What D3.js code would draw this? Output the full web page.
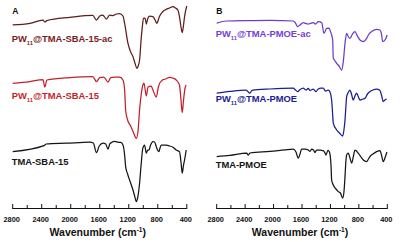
<!DOCTYPE html>
<html>
<head>
<meta charset="utf-8">
<script src="https://cdn.jsdelivr.net/npm/d3@7"></script>
<style>
  body { margin: 0; background: #fff; }
  svg { display: block; font-family: Arial, "Liberation Sans", sans-serif; }
</style>
</head>
<body>
<div id="chart"></div>
<script>
// FTIR spectra, transmittance in a.u. (offset stacked), wavenumber in cm-1
const xTicks = [2800, 2400, 2000, 1600, 1200, 800, 400];
const xMinor = d3.range(400, 2801, 200);

const sbaAc = [[2800,90.5],[2562,91.3],[2384,93],[2356,92],[2329,92.7],[2012,94.3],[1696,95.3],[1645,93],[1600,95],[1559,95.5],[1508,93.5],[1463,95.5],[1421,95.2],[1370,96],[1325,96.2],[1280,95],[1257,91.3],[1211,81.3],[1174,77],[1142,74.7],[1111,71],[1087,68.8],[1071,70],[1051,73],[1030,83],[1013,89.7],[996,93.8],[975,94],[958,91],[940,93.5],[913,95],[867,94.7],[837,93],[812,91.3],[789,93.5],[777,94.7],[736,97],[683,98.3],[638,99],[592,99.7],[555,99],[524,98],[501,94.7],[480,89.5],[463,86.7],[445,90.5],[431,94.7],[400,100]];
const sbaPw = [[2800,61.3],[2562,62.2],[2384,63.2],[2356,59.5],[2329,63],[2012,64.2],[1696,64.7],[1645,62.2],[1600,64.2],[1545,64.5],[1486,62],[1449,64.2],[1394,64.5],[1325,64.5],[1280,63],[1257,58],[1243,48],[1216,43],[1174,40],[1133,36.5],[1096,33.8],[1071,38],[1051,48],[1024,57],[1006,60.5],[990,61.5],[958,55],[934,59.5],[892,60],[872,58.5],[821,54.5],[789,60],[736,63],[693,63.5],[638,64.3],[597,64],[546,63],[501,60.5],[480,53],[463,46.7],[445,53],[424,59],[408,60.5]];
const sba = [[2800,27.2],[2370,30.2],[2356,30.5],[2340,31],[2058,31.4],[1737,31.9],[1689,31.5],[1645,26.7],[1607,30],[1555,31.4],[1518,31],[1486,28.4],[1463,31],[1439,31.7],[1394,32.3],[1348,31.9],[1311,31.8],[1280,30.5],[1257,25.5],[1243,19.7],[1216,16],[1189,13],[1142,8],[1119,5],[1096,2.2],[1078,4],[1051,11.4],[1030,20.5],[1006,28.9],[982,30.5],[958,26.4],[940,28],[922,28],[899,30.5],[867,32.2],[844,32],[821,29.7],[803,28],[785,27.2],[769,29],[752,30.5],[683,30.5],[638,30],[597,29.5],[546,28],[501,27.2],[480,22],[463,16.4],[445,20.5],[431,23],[408,28]];

const pmoeAc = [[2800,91.4],[2659,92.5],[2332,92.7],[2050,92.8],[1723,92.5],[1692,91.5],[1661,89.7],[1628,90.5],[1582,91.7],[1544,91.2],[1512,91],[1488,91.2],[1441,91.7],[1410,91],[1371,92.2],[1323,91.7],[1291,86.3],[1253,88.8],[1221,89],[1199,87.2],[1168,83],[1160,73.8],[1143,73],[1112,71.3],[1080,70],[1042,68],[1019,72.2],[995,81.3],[972,86.3],[953,85],[925,83.8],[890,86],[855,87.2],[820,85],[784,83],[738,82.2],[690,83.8],[658,86],[620,87.2],[550,88.3],[503,88],[482,86],[465,82.2],[433,83],[401,85.5]];
const pmoePw = [[2800,56.4],[2613,57.3],[2388,58],[2356,57],[2332,56.4],[2304,57.8],[2050,58.5],[1723,58.9],[1692,58],[1661,57.2],[1628,58.2],[1582,58.9],[1544,58],[1512,58.8],[1488,57.8],[1441,58.5],[1404,57.2],[1371,58.5],[1333,58.9],[1301,58.9],[1270,57.5],[1230,58],[1206,57],[1183,53],[1171,47],[1160,41.4],[1112,38],[1073,36.5],[1028,35],[1010,38],[995,43],[981,50.5],[972,54.7],[953,56.5],[925,58],[904,56],[879,53],[855,55],[831,56.4],[806,54.5],[784,53],[742,53.5],[714,53.9],[679,56],[644,57.2],[602,58],[550,58.4],[503,57.8],[482,55.5],[457,52.2],[433,53],[409,53.5]];
const pmoe = [[2800,24.7],[2613,25.3],[2378,26.4],[2356,25.5],[2332,26.5],[2050,27.3],[1769,28.3],[1723,28.4],[1685,27],[1652,23.9],[1628,26],[1605,28.4],[1558,28.5],[1512,28],[1488,27.3],[1464,28.4],[1439,28],[1417,26.7],[1396,28],[1371,28],[1333,27.9],[1301,27.7],[1277,26.5],[1263,25.5],[1235,27.8],[1214,27],[1192,20.5],[1183,13],[1160,10.5],[1122,8.5],[1090,7.2],[1059,6.5],[1028,3.9],[1010,7],[995,14.7],[981,23],[972,25.5],[949,26.4],[925,24],[901,21.4],[876,25],[855,28],[834,27.5],[808,26.4],[770,24.5],[738,23],[690,22.2],[665,23.5],[644,24.7],[602,26],[550,27.2],[503,27.7],[482,25.5],[457,22.2],[433,24],[419,25.5],[405,27]];

const panels = [
  { letter: "A", x0: 12.7, x1: 186.8, series: [
    { name: "TMA-SBA-15-ac", data: sbaAc, color: "#5e1c1c", text: "#7a2222", ty: 42 },
    { name: "TMA-SBA-15", data: sbaPw, color: "#c41f2b", text: "#c41f2b", ty: 99 },
    { name: "TMA-SBA-15", data: sba, color: "#151515", text: "#151515", ty: 164.5, plain: true }
  ]},
  { letter: "B", x0: 216.7, x1: 387.3, series: [
    { name: "TMA-PMOE-ac", data: pmoeAc, color: "#6a3ccc", text: "#7440d4", ty: 37 },
    { name: "TMA-PMOE", data: pmoePw, color: "#1c1c96", text: "#1c1c96", ty: 102 },
    { name: "TMA-PMOE", data: pmoe, color: "#151515", text: "#151515", ty: 168, plain: true }
  ]}
];

const width = 400, height = 242;
const axisY = 208.5;

const svg = d3.select("#chart").append("svg")
    .attr("width", width)
    .attr("height", height)
    .attr("viewBox", [0, 0, width, height]);

const y = d3.scaleLinear().domain([0, 100]).range([206, 6]);

panels.forEach(p => {
  const x = d3.scaleLinear().domain([2800, 400]).range([p.x0, p.x1]);
  const g = svg.append("g");

  g.append("text")
      .attr("x", p.x0 - 0.5)
      .attr("y", 13.5)
      .attr("font-size", 8.5)
      .attr("font-weight", "bold")
      .attr("fill", "#111")
      .text(p.letter);

  const line = d3.line()
      .x(d => x(d[0]))
      .y(d => y(d[1]))
      .curve(d3.curveMonotoneX);

  p.series.forEach(s => {
    g.append("path")
        .datum(s.data)
        .attr("fill", "none")
        .attr("stroke", s.color)
        .attr("stroke-width", 1.25)
        .attr("stroke-linejoin", "round")
        .attr("d", line);

    const t = g.append("text")
        .attr("x", p.x0 - 1)
        .attr("y", s.ty)
        .attr("font-size", 9.4)
        .attr("font-weight", "bold")
        .attr("fill", s.text);
    if (s.plain) {
      t.text(s.name);
    } else {
      t.append("tspan").text("PW");
      t.append("tspan").attr("font-size", 5.8).attr("dy", 2.5).text("11");
      t.append("tspan").attr("dy", -2.5).text("@" + s.name);
    }
  });

  // x axis, ticks pointing up
  const ax = g.append("g").attr("transform", `translate(0,${axisY})`);
  ax.append("line")
      .attr("x1", x(2800)).attr("x2", x(400))
      .attr("stroke", "#111").attr("stroke-width", 1);
  ax.selectAll("line.tick")
    .data(xMinor)
    .join("line")
      .attr("class", "tick")
      .attr("x1", d => x(d)).attr("x2", d => x(d))
      .attr("y1", 0.5)
      .attr("y2", d => xTicks.includes(d) ? -4.5 : -3.5)
      .attr("stroke", "#111").attr("stroke-width", 1);
  ax.selectAll("text")
    .data(xTicks)
    .join("text")
      .attr("x", d => x(d) - 1)
      .attr("y", 13)
      .attr("text-anchor", "middle")
      .attr("font-size", 7.4)
      .attr("font-weight", "bold")
      .attr("fill", "#111")
      .text(d => d);

  const lab = g.append("text")
      .attr("x", (p.x0 + p.x1) / 2 - 2)
      .attr("y", 236)
      .attr("text-anchor", "middle")
      .attr("font-size", 10.5)
      .attr("font-weight", "bold")
      .attr("fill", "#111");
  lab.append("tspan").text("Wavenumber (cm");
  lab.append("tspan").attr("font-size", 6.5).attr("dy", -4).text("-1");
  lab.append("tspan").attr("dy", 4).text(")");
});
</script>
</body>
</html>
